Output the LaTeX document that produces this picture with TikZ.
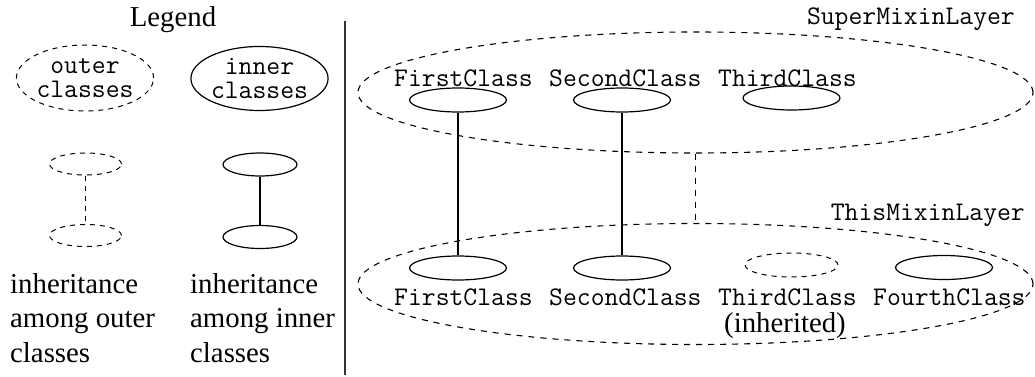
\documentclass[tikz,border=0pt]{standalone}
\usepackage{fontspec}
\setmainfont{Liberation Serif}
\usetikzlibrary{shapes.geometric}
\tikzset{
	cls/.style={ellipse, draw, line width=1.2pt, inner sep=0pt, minimum width=97pt, minimum height=24pt},
	inh/.style={cls, line width=1pt, dash pattern=on 5pt off 5pt},
	layer/.style={ellipse, draw, line width=1.1pt, dash pattern=on 6pt off 6pt, inner sep=0pt, minimum width=675pt, minimum height=121pt},
	code/.style={font=\fontsize{26.9}{24}\selectfont\ttfamily, inner sep=0pt},
	txt/.style={font=\fontsize{28.8}{34.5}\selectfont, inner sep=0pt},
}

\begin{document}
\begin{tikzpicture}[x=1pt, y=-1pt]
		%%%%% START %%%%%
		\useasboundingbox (0,0) rectangle (1035,377);
		
		\node[txt] (legend) at (173,20) {Legend};
		
		\node[inh, minimum width=116pt, minimum height=66pt, code, align=center] (legOuter) at (85,78) {outer\\classes};
		\node[cls, minimum width=117pt, minimum height=64pt, code, align=center] (legInner) at (259.5,78.5) {inner\\classes};
		
		\node[inh, minimum width=72pt, minimum height=22pt] (legOutSup) at (85.5,164) {};
		\node[inh, minimum width=72pt, minimum height=22pt] (legOutSub) at (85.5,235.5) {};
		\draw[line width=1pt, dash pattern=on 5pt off 5pt] (legOutSup) -- (legOutSub);
		
		\node[cls, minimum width=74pt, minimum height=23pt] (legInSup) at (260,164.5) {};
		\node[cls, minimum width=74pt, minimum height=23pt] (legInSub) at (260,237) {};
		\draw[line width=1.2pt] (legInSup) -- (legInSub);
		
		\node[txt, anchor=north west, align=left] (legOutTxt) at (10,273) {inheritance\\among outer\\classes};
		\node[txt, anchor=north west, align=left] (legInTxt) at (190,273) {inheritance\\among inner\\classes};
		
		\draw[line width=2pt, color=black!80] (345,21) -- (345,375);
		
		%%%%% LAYERS %%%%%
		\node[layer] (superLayer) at (695.5,92.5) {};
		\node[layer] (thisLayer) at (695.5,284) {};
		\draw[line width=1.1pt, dash pattern=on 6pt off 6pt] (superLayer) -- (thisLayer);
		
		\node[code, anchor=base east] (superLbl) at (1015,25) {SuperMixinLayer};
		\node[code, anchor=base east] (thisLbl) at (1025,220) {ThisMixinLayer};
		
		\node[code, anchor=base west] (supFirstLbl) at (394,87) {FirstClass};
		\node[code, anchor=base west] (supSecondLbl) at (549,87) {SecondClass};
		\node[code, anchor=base west] (supThirdLbl) at (718,87) {ThirdClass};
		
		\node[cls] (supFirst) at (458,100) {};
		\node[cls] (supSecond) at (622,100) {};
		\node[cls] (supThird) at (791.5,98) {};
		
		\node[cls] (thisFirst) at (458,268) {};
		\node[cls] (thisSecond) at (622,268) {};
		\node[inh, minimum width=93pt] (thisThird) at (791.5,265) {};
		\node[cls] (thisFourth) at (944,267.5) {};
		
		\node[code, anchor=base west] (thisFirstLbl) at (394,305) {FirstClass};
		\node[code, anchor=base west] (thisSecondLbl) at (549,305) {SecondClass};
		\node[code, anchor=base west] (thisThirdLbl) at (718,305) {ThirdClass};
		\node[code, anchor=base west] (thisFourthLbl) at (873,305) {FourthClass};
		\node[txt, anchor=base] (inhLbl) at (785,332) {(inherited)};
		
		\draw[line width=1.2pt] (supFirst) -- (thisFirst);
		\draw[line width=1.2pt] (supSecond) -- (thisSecond);
		
		%%%%% END %%%%%
	\end{tikzpicture}
\end{document}
